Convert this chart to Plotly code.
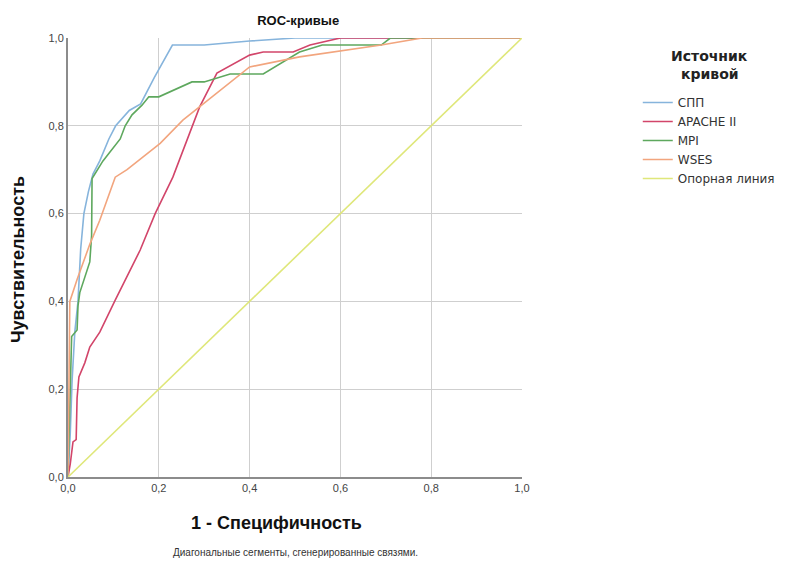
import plotly.graph_objects as go

# Data
spp_x = [0, 0.005, 0.009, 0.015, 0.022, 0.028, 0.035, 0.045, 0.055, 0.07, 0.09, 0.105, 0.135, 0.16, 0.19, 0.23, 0.30, 0.40, 0.50, 1.0]
spp_y = [0, 0.10, 0.22, 0.33, 0.40, 0.52, 0.60, 0.65, 0.69, 0.72, 0.77, 0.80, 0.835, 0.85, 0.91, 0.984, 0.984, 0.993, 1.0, 1.0]

apache_x = [0, 0.005, 0.011, 0.018, 0.02, 0.024, 0.037, 0.048, 0.07, 0.104, 0.159, 0.192, 0.231, 0.262, 0.29, 0.328, 0.372, 0.40, 0.43, 0.496, 0.533, 0.60, 1.0]
apache_y = [0, 0.03, 0.08, 0.085, 0.18, 0.228, 0.26, 0.296, 0.33, 0.403, 0.517, 0.60, 0.683, 0.768, 0.843, 0.92, 0.945, 0.961, 0.968, 0.968, 0.984, 1.0, 1.0]

mpi_x = [0, 0.004, 0.008, 0.02, 0.022, 0.026, 0.04, 0.048, 0.052, 0.053, 0.077, 0.115, 0.126, 0.141, 0.163, 0.178, 0.20, 0.247, 0.273, 0.30, 0.357, 0.43, 0.474, 0.51, 0.56, 0.69, 0.71, 1.0]
mpi_y = [0, 0.20, 0.32, 0.335, 0.39, 0.42, 0.465, 0.49, 0.55, 0.68, 0.72, 0.77, 0.80, 0.825, 0.847, 0.866, 0.866, 0.888, 0.90, 0.90, 0.918, 0.918, 0.945, 0.968, 0.984, 0.984, 1.0, 1.0]

wses_x = [0, 0.002, 0.004, 0.02, 0.048, 0.07, 0.104, 0.13, 0.203, 0.253, 0.328, 0.40, 0.51, 0.69, 0.78, 1.0]
wses_y = [0, 0.20, 0.40, 0.45, 0.53, 0.585, 0.683, 0.70, 0.76, 0.813, 0.875, 0.934, 0.957, 0.984, 1.0, 1.0]

ref_x = [0, 1]
ref_y = [0, 1]

names = ["СПП", "APACHE II", "MPI", "WSES", "Опорная линия"]
colors = ["#86b4dc", "#d2456a", "#5ea85e", "#f2a57e", "#dfe77a"]
series = [(spp_x, spp_y), (apache_x, apache_y), (mpi_x, mpi_y), (wses_x, wses_y), (ref_x, ref_y)]

tick_vals = [0, 0.2, 0.4, 0.6, 0.8, 1.0]

fig = go.Figure()
for (xs, ys), name, col in zip(series, names, colors):
    fig.add_trace(go.Scatter(x=xs, y=ys, mode="lines", name=name,
                             line=dict(color=col, width=1.6)))

font_family = "Liberation Sans, Arial, sans-serif"

axis_common = dict(
    range=[0, 1], tickvals=tick_vals, tickformat=".1f",
    showgrid=True, gridcolor="#cfcfcf", gridwidth=1.2,
    showline=True, linecolor="#8c8c8c", linewidth=2,
    zeroline=False, ticks="", ticklen=0,
    tickfont=dict(size=11, color="#444444"),
    fixedrange=True,
)

fig.update_layout(
    width=780, height=559,
    margin=dict(l=60, r=266, t=30, b=90, autoexpand=False),
    paper_bgcolor="white", plot_bgcolor="white",
    separators=", ",
    font=dict(family=font_family, color="#333333"),
    title=dict(text="<b>ROC-кривые</b>", x=0.372, xanchor="center",
               y=0.9785, yanchor="middle", font=dict(size=13, color="#111111")),
    showlegend=True,
    legend=dict(
        x=1.255, xanchor="left", y=0.886, yanchor="top",
        font=dict(size=12, color="#333333", family="DejaVu Sans, sans-serif"),
        tracegroupgap=0, itemwidth=30,
        bgcolor="rgba(0,0,0,0)",
    ),
    xaxis=axis_common,
    yaxis=axis_common,
    annotations=[
        dict(text="<b>Источник</b>", xref="paper", yref="paper",
             x=1.414, y=0.959, xanchor="center", yanchor="middle",
             showarrow=False, font=dict(size=14, color="#222222", family="DejaVu Sans, sans-serif")),
        dict(text="<b>кривой</b>", xref="paper", yref="paper",
             x=1.414, y=0.918, xanchor="center", yanchor="middle",
             showarrow=False, font=dict(size=14, color="#222222", family="DejaVu Sans, sans-serif")),
        dict(text="<b>1 - Специфичность</b>", xref="paper", yref="paper",
             x=0.46, y=-0.1048, xanchor="center", yanchor="middle",
             showarrow=False, font=dict(size=18, color="#111111")),
        dict(text="<b>Чувствительность</b>", xref="paper", yref="paper",
             x=-0.110, y=0.4943, xanchor="center", yanchor="middle", textangle=-90,
             showarrow=False, font=dict(size=18, color="#111111")),
        dict(text="Диагональные сегменты, сгенерированные связями.",
             xref="paper", yref="paper", x=0.5, y=-0.173,
             xanchor="center", yanchor="middle", showarrow=False,
             font=dict(size=10, color="#333333")),
    ],
)

fig.write_html("out.html")
